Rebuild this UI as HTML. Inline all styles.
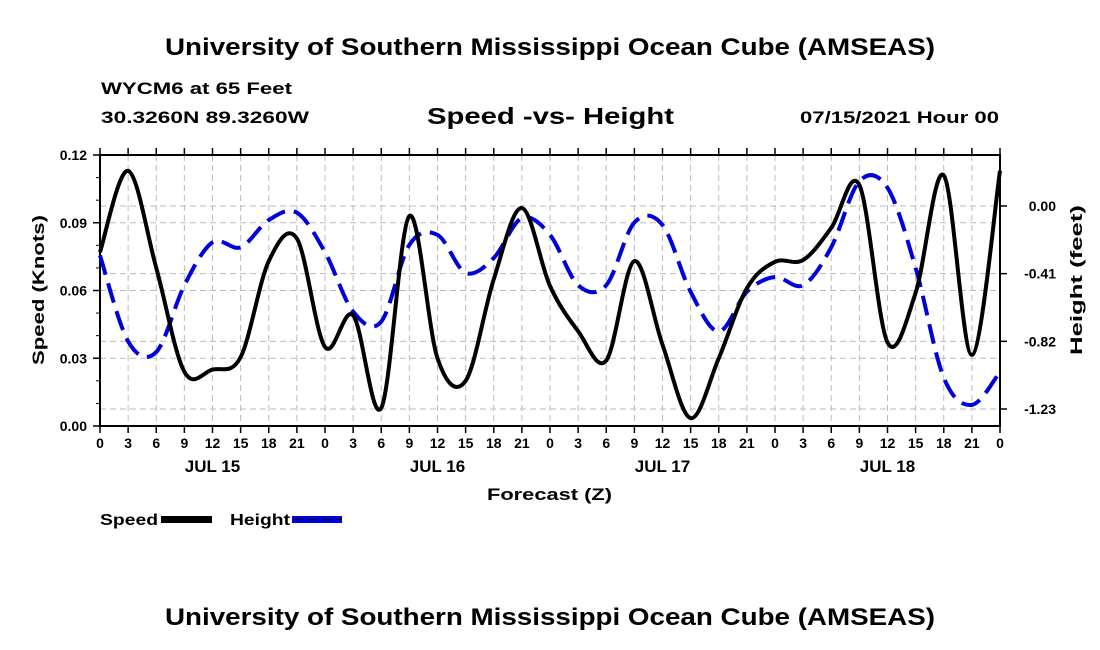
<!DOCTYPE html>
<html><head><meta charset="utf-8"><style>
body{margin:0;background:#fff;}
svg{display:block;font-family:"Liberation Sans",Arial,sans-serif;font-weight:bold;}
</style></head><body>
<svg id="chart" width="1100" height="650" viewBox="0 0 1100 650">
<text x="165" y="55" font-size="24" textLength="770" lengthAdjust="spacingAndGlyphs">University of Southern Mississippi Ocean Cube (AMSEAS)</text>
<text x="101" y="94" font-size="17" textLength="191" lengthAdjust="spacingAndGlyphs">WYCM6 at 65 Feet</text>
<text x="101" y="123" font-size="17" textLength="208" lengthAdjust="spacingAndGlyphs">30.3260N  89.3260W</text>
<text x="427" y="124" font-size="23" textLength="247" lengthAdjust="spacingAndGlyphs">Speed -vs- Height</text>
<text x="800" y="123" font-size="17" textLength="199" lengthAdjust="spacingAndGlyphs">07/15/2021 Hour 00</text>
<g id="grid"></g>
<g id="axes"></g>
<g id="series"></g>
<text x="487" y="500" font-size="17" textLength="125" lengthAdjust="spacingAndGlyphs">Forecast (Z)</text>
<text transform="translate(44,365) rotate(-90)" font-size="17" textLength="150" lengthAdjust="spacingAndGlyphs">Speed (Knots)</text>
<text transform="translate(1082,355) rotate(-90)" font-size="17" textLength="150" lengthAdjust="spacingAndGlyphs">Height (feet)</text>
<g>
<text x="100" y="525" font-size="16" textLength="58" lengthAdjust="spacingAndGlyphs">Speed</text>
<rect x="161" y="516" width="51" height="7" fill="#000"/>
<text x="230" y="525" font-size="16" textLength="60" lengthAdjust="spacingAndGlyphs">Height</text>
<rect x="292" y="516" width="50" height="7" fill="#0000dd"/>
<line x1="294" y1="519.5" x2="342" y2="519.5" stroke="#000" stroke-width="1" stroke-dasharray="9,5"/>
</g>
<text x="165" y="625" font-size="24" textLength="770" lengthAdjust="spacingAndGlyphs">University of Southern Mississippi Ocean Cube (AMSEAS)</text>
</svg>
<script>
const hours = [0,3,6,9,12,15,18,21,24,27,30,33,36,39,42,45,48,51,54,57,60,63,66,69,72,75,78,81,84,87,90,93,96];
const speedValues = [0.077,0.113,0.070,0.024,0.025,0.0305,0.073,0.083,0.035,0.049,0.008,0.093,0.030,0.020,0.065,0.0965,0.062,0.042,0.029,0.073,0.036,0.0035,0.030,0.061,0.0727,0.0735,0.0877,0.1067,0.037,0.059,0.111,0.0315,0.113];
const heightValues = [-0.30,-0.82,-0.885,-0.48,-0.22,-0.25,-0.085,-0.04,-0.28,-0.64,-0.70,-0.235,-0.175,-0.405,-0.315,-0.073,-0.175,-0.48,-0.48,-0.10,-0.115,-0.52,-0.76,-0.52,-0.43,-0.48,-0.25,0.15,0.11,-0.375,-1.04,-1.205,-1.005];
const speedTicks = [0,0.03,0.06,0.09,0.12];
const heightTicks = [0,-0.41,-0.82,-1.23];
const dayLabels = ["JUL 15","JUL 16","JUL 17","JUL 18"];
const X0=100,X1=1000,Y0=426,Y1=155;
const x = h => X0 + h/96*(X1-X0);
const ys = v => Y0 - v/0.12*(Y0-Y1);
const yh = v => 206 + (-v)/1.23*(409-206);
const NS="http://www.w3.org/2000/svg";
function mk(tag, attrs, parent){const e=document.createElementNS(NS,tag);for(const k in attrs)e.setAttribute(k,attrs[k]);parent.appendChild(e);return e;}
const grid=document.getElementById('grid'), axes=document.getElementById('axes'), series=document.getElementById('series');
for(let h=3;h<96;h+=3){
  const l=mk('line',{x1:x(h),x2:x(h),y1:Y1,y2:Y0,stroke:'#bbb','stroke-dasharray':'6,4'},grid);
  
  
}
speedTicks.forEach(v=>{
  const l=mk('line',{x1:X0,x2:X1,y1:ys(v),y2:ys(v),stroke:'#bbb','stroke-dasharray':'6,4'},grid);
  
  
  const t=mk('line',{x1:X0-7,x2:X0,y1:ys(v),y2:ys(v),stroke:'#000','stroke-width':1.5},axes);
  
  
  const tx=mk('text',{x:X0-13,y:ys(v)+5,'text-anchor':'end','font-size':14},axes);
  tx.textContent=v.toFixed(2);
  
  
});
for(let v=0.01;v<0.12;v+=0.01){
  const t=mk('line',{x1:X0-4,x2:X0,y1:ys(v),y2:ys(v),stroke:'#000'},axes);
  
  
}
heightTicks.forEach(v=>{
  const l=mk('line',{x1:X0,x2:X1,y1:yh(v),y2:yh(v),stroke:'#bbb','stroke-dasharray':'6,4'},grid);
  
  
  const t=mk('line',{x1:X1,x2:X1+7,y1:yh(v),y2:yh(v),stroke:'#000','stroke-width':1.5},axes);
  
  
  const tx=mk('text',{x:X1+56,y:yh(v)+5,'text-anchor':'end','font-size':14},axes);
  tx.textContent=v.toFixed(2);
  
  
});
const fr=mk('rect',{x:X0,y:Y1,width:X1-X0,height:Y0-Y1,fill:'none',stroke:'#000','stroke-width':2},axes);


for(let h=0;h<=96;h+=3){
  const t=mk('line',{x1:x(h),x2:x(h),y1:Y0,y2:Y0+7,stroke:'#000','stroke-width':1.5},axes);
  
  
  const t2=mk('line',{x1:x(h),x2:x(h),y1:Y1-7,y2:Y1,stroke:'#000','stroke-width':1.5},axes);
  
  
  const tx=mk('text',{x:x(h),y:Y0+22,'text-anchor':'middle','font-size':14},axes);
  tx.textContent=String(h%24);
  
  
}
dayLabels.forEach((d,i)=>{
  const tx=mk('text',{x:x(i*24+12),y:Y0+46,'text-anchor':'middle','font-size':17},axes);
  tx.textContent=d;
  
  
});
function smooth(pts){
  let d=`M${pts[0][0]},${pts[0][1]}`;
  for(let i=0;i<pts.length-1;i++){
    const p0=pts[Math.max(0,i-1)],p1=pts[i],p2=pts[i+1],p3=pts[Math.min(pts.length-1,i+2)];
    const c1=[p1[0]+(p2[0]-p0[0])/6,p1[1]+(p2[1]-p0[1])/6];
    const c2=[p2[0]-(p3[0]-p1[0])/6,p2[1]-(p3[1]-p1[1])/6];
    d+=` C${c1[0]},${c1[1]} ${c2[0]},${c2[1]} ${p2[0]},${p2[1]}`;
  }
  return d;
}
const hp=mk('path',{d:smooth(hours.map((h,i)=>[x(h),yh(heightValues[i])])),fill:'none',stroke:'#0000dd','stroke-width':4,'stroke-dasharray':'20,9'},series);


const sp=mk('path',{d:smooth(hours.map((h,i)=>[x(h),ys(speedValues[i])])),fill:'none',stroke:'#000','stroke-width':4},series);


</script>
</body></html>
